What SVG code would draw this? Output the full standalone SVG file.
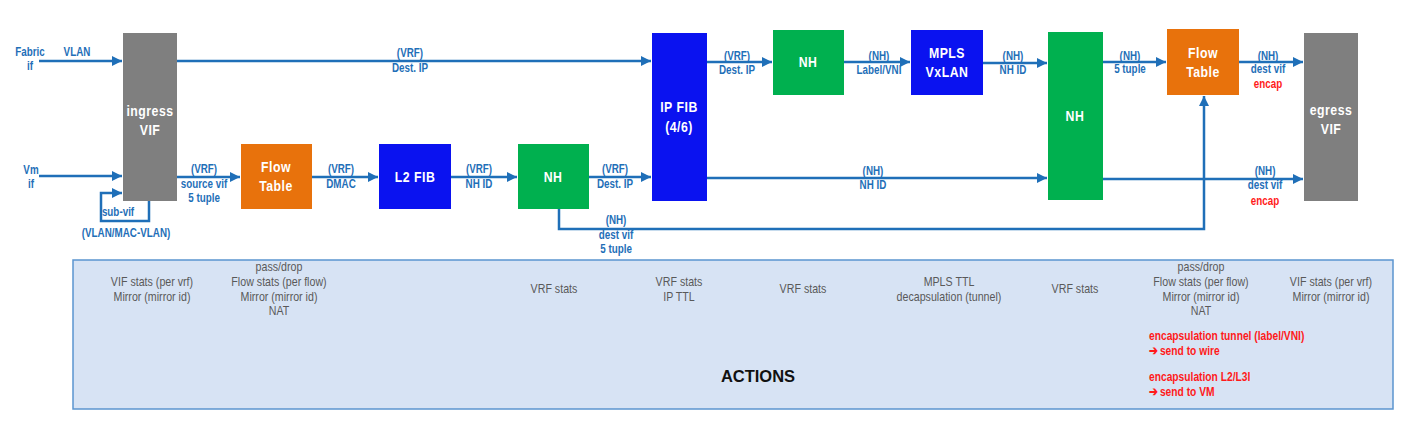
<svg xmlns="http://www.w3.org/2000/svg" width="1423" height="436" viewBox="0 0 1423 436">
<defs>
<style>
.lbl{font-family:"Liberation Sans",Arial,sans-serif;font-weight:bold;font-size:12px;fill:#1f6fb8;text-anchor:middle}
.red{fill:#ff1a1a}
.nt{font-family:"Liberation Sans",Arial,sans-serif;font-weight:bold;font-size:15px;fill:#ffffff;text-anchor:middle;letter-spacing:0.6px}
.act{font-family:"Liberation Sans",Arial,sans-serif;font-size:13px;fill:#595959;text-anchor:middle}
.ra{font-family:"Liberation Sans",Arial,sans-serif;font-weight:bold;font-size:12.5px;fill:#ff1a1a}
.nar{transform-box:fill-box;transform-origin:center;transform:scaleX(0.82)}
.narl{transform-box:fill-box;transform-origin:left center;transform:scaleX(0.82)}
.ln{fill:none;stroke:#1f6fb8;stroke-width:2.5}
.gray{fill:#7f7f7f}
.orange{fill:#e8720c}
.blue{fill:#0a12f0}
.green{fill:#00b04f}
</style>
<marker id="ah" markerUnits="userSpaceOnUse" markerWidth="10" markerHeight="10" refX="10" refY="5" orient="auto">
<path d="M0,0 L10,5 L0,10 z" fill="#1f6fb8"/>
</marker>
</defs>
<rect width="1423" height="436" fill="#ffffff"/>

<g id="actions">
<rect x="73" y="260" width="1320" height="149" fill="#d7e3f4" stroke="#5b95cf" stroke-width="1.5"/>
<text class="act nar"><tspan x="152" y="286">VIF stats (per vrf)</tspan><tspan x="152" y="301">Mirror (mirror id)</tspan></text>
<text class="act nar"><tspan x="279" y="271">pass/drop</tspan><tspan x="279" y="286">Flow stats (per flow)</tspan><tspan x="279" y="301">Mirror (mirror id)</tspan><tspan x="279" y="315">NAT</tspan></text>
<text class="act nar" x="554" y="293">VRF stats</text>
<text class="act nar"><tspan x="679" y="286">VRF stats</tspan><tspan x="679" y="301">IP TTL</tspan></text>
<text class="act nar" x="803" y="293">VRF stats</text>
<text class="act nar"><tspan x="949" y="286">MPLS TTL</tspan><tspan x="949" y="301">decapsulation (tunnel)</tspan></text>
<text class="act nar" x="1075" y="293">VRF stats</text>
<text class="act nar"><tspan x="1201" y="271">pass/drop</tspan><tspan x="1201" y="286">Flow stats (per flow)</tspan><tspan x="1201" y="301">Mirror (mirror id)</tspan><tspan x="1201" y="315">NAT</tspan></text>
<text class="act nar"><tspan x="1331" y="286">VIF stats (per vrf)</tspan><tspan x="1331" y="301">Mirror (mirror id)</tspan></text>
<text class="ra narl"><tspan x="1149" y="340">encapsulation tunnel (label/VNI)</tspan><tspan x="1149" y="355">➔ send to wire</tspan><tspan x="1149" y="381">encapsulation L2/L3I</tspan><tspan x="1149" y="396">➔ send to VM</tspan></text>
<text x="758" y="382" font-family="Liberation Sans, Arial, sans-serif" font-weight="bold" font-size="16.5" fill="#111111" text-anchor="middle">ACTIONS</text>
</g>

<g id="connectors">
<path class="ln" d="M39,61 H122" marker-end="url(#ah)"/>
<path class="ln" d="M39,176 H122" marker-end="url(#ah)"/>
<path class="ln" d="M149,201 V221 H101 V193 H122" marker-end="url(#ah)"/>
<path class="ln" d="M177,61 H651" marker-end="url(#ah)"/>
<path class="ln" d="M177,177 H240" marker-end="url(#ah)"/>
<path class="ln" d="M312,177 H378" marker-end="url(#ah)"/>
<path class="ln" d="M451,177 H517" marker-end="url(#ah)"/>
<path class="ln" d="M589,177 H651" marker-end="url(#ah)"/>
<path class="ln" d="M707,62 H772" marker-end="url(#ah)"/>
<path class="ln" d="M844,62 H910" marker-end="url(#ah)"/>
<path class="ln" d="M983,63 H1047" marker-end="url(#ah)"/>
<path class="ln" d="M707,178 H1047" marker-end="url(#ah)"/>
<path class="ln" d="M1103,62 H1166" marker-end="url(#ah)"/>
<path class="ln" d="M1239,62 H1303" marker-end="url(#ah)"/>
<path class="ln" d="M1103,179 H1303" marker-end="url(#ah)"/>
<path class="ln" d="M559,209 V229 H1204 V96" marker-end="url(#ah)"/>
<text class="lbl nar"><tspan x="30" y="56">Fabric</tspan><tspan x="30" y="70">if</tspan></text>
<text class="lbl nar" x="77" y="56">VLAN</text>
<text class="lbl nar"><tspan x="31" y="174">Vm</tspan><tspan x="31" y="188">if</tspan></text>
<text class="lbl nar" x="118" y="216">sub-vif</text>
<text class="lbl nar" x="126" y="237">(VLAN/MAC-VLAN)</text>
<text class="lbl nar"><tspan x="410" y="57">(VRF)</tspan><tspan x="410" y="72">Dest. IP</tspan></text>
<text class="lbl nar"><tspan x="204" y="173">(VRF)</tspan><tspan x="204" y="188">source vif</tspan><tspan x="204" y="202">5 tuple</tspan></text>
<text class="lbl nar"><tspan x="341" y="173">(VRF)</tspan><tspan x="341" y="188">DMAC</tspan></text>
<text class="lbl nar"><tspan x="479" y="173">(VRF)</tspan><tspan x="479" y="188">NH ID</tspan></text>
<text class="lbl nar"><tspan x="615" y="173">(VRF)</tspan><tspan x="615" y="188">Dest. IP</tspan></text>
<text class="lbl nar"><tspan x="616" y="224">(NH)</tspan><tspan x="616" y="239">dest vif</tspan><tspan x="616" y="253">5 tuple</tspan></text>
<text class="lbl nar"><tspan x="737" y="60">(VRF)</tspan><tspan x="737" y="74">Dest. IP</tspan></text>
<text class="lbl nar"><tspan x="879" y="60">(NH)</tspan><tspan x="879" y="74">Label/VNI</tspan></text>
<text class="lbl nar"><tspan x="1013" y="60">(NH)</tspan><tspan x="1013" y="74">NH ID</tspan></text>
<text class="lbl nar"><tspan x="873" y="175">(NH)</tspan><tspan x="873" y="189">NH ID</tspan></text>
<text class="lbl nar"><tspan x="1130" y="60">(NH)</tspan><tspan x="1130" y="73">5 tuple</tspan></text>
<text class="lbl nar"><tspan x="1268" y="60">(NH)</tspan><tspan x="1268" y="73">dest vif</tspan><tspan class="red" x="1268" y="88">encap</tspan></text>
<text class="lbl nar"><tspan x="1265" y="175">(NH)</tspan><tspan x="1265" y="189">dest vif</tspan><tspan class="red" x="1265" y="205">encap</tspan></text>
</g>

<g id="ingress-vif">
<rect class="gray" x="123" y="33" width="54" height="168"/>
<text class="nt nar"><tspan x="150" y="116">ingress</tspan><tspan x="150" y="135">VIF</tspan></text>
</g>
<g id="flow-table-1">
<rect class="orange" x="241" y="144" width="71" height="65"/>
<text class="nt nar"><tspan x="276" y="172">Flow</tspan><tspan x="276" y="191">Table</tspan></text>
</g>
<g id="l2-fib">
<rect class="blue" x="379" y="144" width="72" height="65"/>
<text class="nt nar" x="415" y="182">L2 FIB</text>
</g>
<g id="nh-1">
<rect class="green" x="518" y="144" width="71" height="65"/>
<text class="nt nar" x="553" y="182">NH</text>
</g>
<g id="ip-fib">
<rect class="blue" x="652" y="33" width="55" height="168"/>
<text class="nt nar"><tspan x="679" y="112">IP FIB</tspan><tspan x="679" y="132">(4/6)</tspan></text>
</g>
<g id="nh-2">
<rect class="green" x="773" y="30" width="71" height="65"/>
<text class="nt nar" x="808" y="67">NH</text>
</g>
<g id="mpls-vxlan">
<rect class="blue" x="911" y="30" width="72" height="65"/>
<text class="nt nar"><tspan x="947" y="58">MPLS</tspan><tspan x="947" y="77">VxLAN</tspan></text>
</g>
<g id="nh-3">
<rect class="green" x="1048" y="32" width="55" height="168"/>
<text class="nt nar" x="1075" y="121">NH</text>
</g>
<g id="flow-table-2">
<rect class="orange" x="1167" y="29" width="72" height="66"/>
<text class="nt nar"><tspan x="1203" y="58">Flow</tspan><tspan x="1203" y="77">Table</tspan></text>
</g>
<g id="egress-vif">
<rect class="gray" x="1304" y="33" width="54" height="168"/>
<text class="nt nar"><tspan x="1331" y="115">egress</tspan><tspan x="1331" y="134">VIF</tspan></text>
</g>
</svg>
